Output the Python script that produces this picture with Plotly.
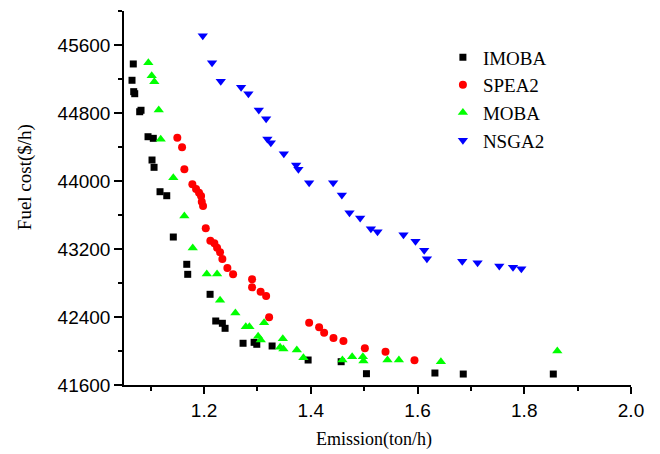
import plotly.graph_objects as go

series_names = ["IMOBA", "SPEA2", "MOBA", "NSGA2"]

imoba_x = [1.0674, 1.0650, 1.0682, 1.0701, 1.0794, 1.0819, 1.0950, 1.1049, 1.1025, 1.1063,
           1.1175, 1.1301, 1.1424, 1.1676, 1.1694, 1.2113, 1.2219, 1.2343, 1.2394, 1.2731,
           1.2938, 1.2988, 1.3275, 1.3950, 1.4569, 1.5043, 1.6326, 1.6857, 1.8544]
imoba_y = [45377, 45185, 45051, 45027, 44815, 44832, 44521, 44502, 44247, 44161,
           43874, 43827, 43341, 43020, 42902, 42667, 42353, 42326, 42267, 42091,
           42102, 42079, 42059, 41894, 41874, 41733, 41741, 41729, 41729]

spea2_x = [1.1499, 1.1588, 1.1631, 1.1781, 1.1850, 1.1906, 1.1944, 1.1957, 1.1981, 1.2032,
           1.2118, 1.2193, 1.2244, 1.2300, 1.2343, 1.2437, 1.2544, 1.2900, 1.2900, 1.3060,
           1.3163, 1.3219, 1.3969, 1.4156, 1.4250, 1.4425, 1.4612, 1.5013, 1.5400, 1.5943]
spea2_y = [44510, 44397, 44138, 43961, 43906, 43862, 43824, 43757, 43706, 43444,
           43298, 43267, 43215, 43161, 43082, 42977, 42902, 42844, 42749, 42698,
           42647, 42396, 42333, 42279, 42215, 42153, 42118, 42032, 41992, 41891]

moba_x = [1.0956, 1.1019, 1.1068, 1.1151, 1.1188, 1.1424, 1.1631, 1.1788, 1.2051, 1.2244,
          1.2300, 1.2587, 1.2782, 1.2850, 1.3013, 1.3063, 1.3125, 1.3425, 1.3487, 1.3476,
          1.3738, 1.3862, 1.4593, 1.4775, 1.4976, 1.4987, 1.5437, 1.5651, 1.6438, 1.8619]
moba_y = [45392, 45239, 45168, 44835, 44491, 44039, 43588, 43212, 42906, 42906,
          42596, 42447, 42286, 42286, 42173, 42129, 42333, 42044, 42024, 42145,
          42012, 41921, 41894, 41933, 41933, 41882, 41894, 41894, 41874, 42000]

nsga2_x = [1.1976, 1.2150, 1.2313, 1.2694, 1.2831, 1.3026, 1.3163, 1.3187, 1.3251, 1.3495,
           1.3725, 1.3768, 1.3969, 1.4419, 1.4582, 1.4725, 1.4925, 1.5126, 1.5250, 1.5737,
           1.5962, 1.6125, 1.6176, 1.6838, 1.7125, 1.7532, 1.7789, 1.7945]
nsga2_y = [45710, 45392, 45173, 45102, 45027, 44835, 44733, 44494, 44451, 44321,
           44188, 44138, 43980, 43980, 43835, 43627, 43565, 43439, 43404, 43368,
           43291, 43185, 43086, 43055, 43039, 43000, 42985, 42968]

x_title = "Emission(ton/h)"
y_title = "Fuel cost($/h)"

fig = go.Figure()
styles = [
    ("square", "#000000", 7),
    ("circle", "#ff0000", 8),
    ("triangle-up", "#00ff00", 9),
    ("triangle-down", "#0000ff", 9),
]
data = [(imoba_x, imoba_y), (spea2_x, spea2_y), (moba_x, moba_y), (nsga2_x, nsga2_y)]
for name, (xs, ys), (sym, col, sz) in zip(series_names, data, styles):
    fig.add_trace(go.Scatter(x=xs, y=ys, mode="markers", name=name,
                             marker=dict(symbol=sym, color=col, size=sz, line=dict(width=0))))

axis_common = dict(showline=True, linecolor="black", linewidth=1.5, showgrid=False,
                   zeroline=False, ticks="outside", tickcolor="black", tickwidth=1.5,
                   tickfont=dict(family="Liberation Sans, Arial", size=19, color="black"))

# page body has an 8px margin, so the figure is 8px smaller and offset
fig.update_layout(
    width=652, height=446,
    margin=dict(l=116, r=29, t=3, b=69, autoexpand=False),
    paper_bgcolor="white", plot_bgcolor="white",
    xaxis=dict(range=[1.05, 2.0], tick0=1.0, dtick=0.2, ticklen=7, tickformat=".1f",
               minor=dict(ticks="outside", ticklen=4, dtick=0.1, tick0=1.0, tickcolor="black", tickwidth=1.5),
               **axis_common),
    yaxis=dict(range=[41600, 46000], tick0=41600, dtick=800, ticklen=8, tickformat="d",
               minor=dict(ticks="outside", ticklen=4, dtick=400, tick0=41600, tickcolor="black", tickwidth=1.5),
               **axis_common),
    legend=dict(x=0.629, y=0.927, xanchor="left", yanchor="top",
                font=dict(family="Liberation Serif, Times New Roman", size=19, color="black"),
                bgcolor="rgba(0,0,0,0)"),
    annotations=[
        dict(text=x_title, x=0.493, y=-0.147, xref="paper", yref="paper", showarrow=False,
             xanchor="center", yanchor="middle",
             font=dict(family="Liberation Serif, Times New Roman", size=18, color="black")),
        dict(text=y_title, x=-0.195, y=0.556, xref="paper", yref="paper", showarrow=False,
             xanchor="center", yanchor="middle", textangle=-90,
             font=dict(family="Liberation Serif, Times New Roman", size=19, color="black")),
    ],
)

fig.write_html("out.html")
